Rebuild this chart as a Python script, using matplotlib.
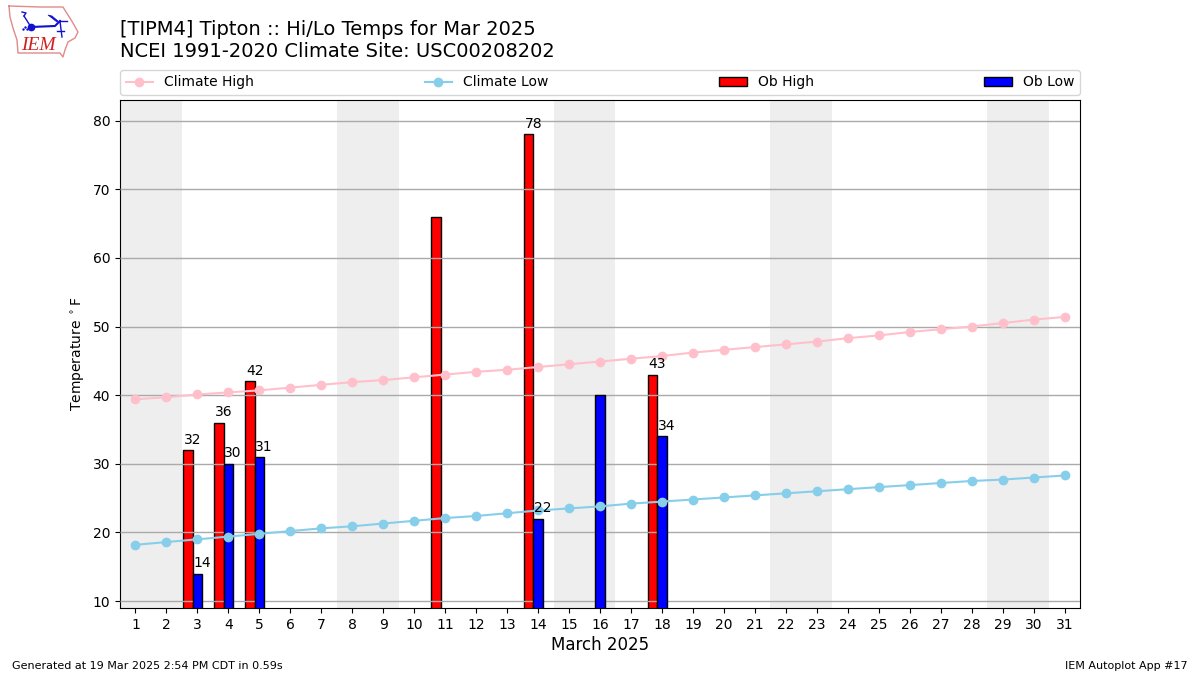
import matplotlib
matplotlib.use("Agg")
import matplotlib.pyplot as plt
from matplotlib.patches import Patch
import numpy as np

days = list(range(1, 32))
climate_high = [39.4, 39.7, 40.1, 40.4, 40.7, 41.1, 41.5, 41.9, 42.2, 42.6, 43.0,
                43.4, 43.7, 44.1, 44.5, 44.9, 45.3, 45.7, 46.2, 46.6, 47.0, 47.4,
                47.8, 48.3, 48.7, 49.2, 49.6, 50.0, 50.5, 51.0, 51.4]
climate_low = [18.2, 18.6, 19.0, 19.4, 19.8, 20.2, 20.6, 20.9, 21.3, 21.7, 22.1,
               22.4, 22.8, 23.2, 23.5, 23.8, 24.2, 24.5, 24.8, 25.1, 25.4, 25.7,
               26.0, 26.3, 26.6, 26.9, 27.2, 27.5, 27.7, 28.0, 28.3]

high_days = [3, 4, 5, 11, 14, 18]
ob_high = [32, 36, 42, 66, 78, 43]
low_days = [3, 4, 5, 14, 16, 18]
ob_low = [14, 30, 31, 22, 40, 34]

# only these got a number in the original
labelled = [3, 4, 5, 14, 18]

weekends = [1, 8, 15, 22, 29]

fig = plt.figure(figsize=(12, 6.75), dpi=100)
ax = fig.add_axes([0.1, 0.0993, 0.8, 0.7526])

for w in weekends:
    ax.axvspan(w - 0.5, w + 1.5, color="#eeeeee", lw=0, zorder=1)
# grid sits over the red bars but under the blue ones
ax.yaxis.grid(True, color="#aaaaaa", lw=1)
ax.set_axisbelow(False)

ax.bar(np.array(high_days) - 0.3, ob_high, width=0.3, color="red", edgecolor="black",
       label="Ob High", zorder=2)
ax.bar(low_days, ob_low, width=0.3, color="blue", edgecolor="black", label="Ob Low", zorder=3)
ax.plot(days, climate_high, color="pink", marker="o", label="Climate High", zorder=4)
ax.plot(days, climate_low, color="skyblue", marker="o", label="Climate Low", zorder=4)

for d, v in zip(high_days, ob_high):
    if d in labelled:
        ax.text(d - 0.15, v + 0.5, str(v), ha="center", va="bottom", fontsize=10, zorder=5)
for d, v in zip(low_days, ob_low):
    if d in labelled:
        ax.text(d + 0.15, v + 0.5, str(v), ha="center", va="bottom", fontsize=10, zorder=5)

ax.set_xlim(0.5, 31.5)
ax.set_ylim(9, 83)
ax.set_xticks(days)
ax.set_yticks(range(10, 81, 10))
ax.tick_params(labelsize=10)
ax.set_xlabel("March 2025", fontsize=12, labelpad=3)
ax.set_ylabel(r"Temperature $^\circ$F", fontsize=10)

handles, labels = ax.get_legend_handles_labels()
handles = [handles[labels.index("Climate High")], handles[labels.index("Climate Low")],
           Patch(facecolor="red", edgecolor="black"), Patch(facecolor="blue", edgecolor="black")]
fig.legend(handles, ["Climate High", "Climate Low", "Ob High", "Ob Low"], ncol=4, mode="expand",
           loc="lower left", bbox_to_anchor=(0.1, 0.8593, 0.8, 0.04), borderaxespad=0, fontsize=10)

fig.text(0.1, 0.9415, "[TIPM4] Tipton :: Hi/Lo Temps for Mar 2025", fontsize=14, va="bottom")
fig.text(0.1, 0.9095, "NCEI 1991-2020 Climate Site: USC00208202", fontsize=14, va="bottom")
fig.text(0.01, 0.0065, "Generated at 19 Mar 2025 2:54 PM CDT in 0.59s", fontsize=8, va="bottom")
fig.text(0.99, 0.0065, "IEM Autoplot App #17", fontsize=8, ha="right", va="bottom")

# logo, drawn in pixels of the figure
logo = fig.add_axes([0, 0.91, 0.0708, 0.09])
logo.set_xlim(0, 85)
logo.set_ylim(60.75, 0)
logo.axis("off")
logo_x = [9, 40, 63, 68, 73, 78, 75, 68, 65, 63, 60, 18, 17, 13, 10, 9]
logo_y = [6, 7, 7, 15, 23, 32, 38, 42, 50, 57, 53, 53, 40, 28, 17, 6]
logo.plot(logo_x, logo_y, color="#e08a8a", lw=1)
logo.plot([31, 55, 60], [27, 26, 21], color="#1010d0", lw=1.5)
logo.plot([31], [27], "o", color="#1010d0", ms=4.5)
logo.fill([48, 52, 58, 57], [15, 16, 21, 22], color="#1010d0", lw=0.5)
logo.plot([59, 67], [21, 21], color="#1010d0", lw=1)
logo.plot([60, 62], [21, 37], color="#1010d0", lw=1)
logo.plot([57, 64], [31, 31], color="#1010d0", lw=1)
logo.plot([24, 31], [16, 27], color="#1010d0", lw=1)
logo.plot([22, 26, 24], [12, 13, 16], color="#1010d0", lw=1)
logo.plot([23, 25, 27], [29, 27, 29], ".", color="#1010d0", ms=1.5)
logo.text(21, 45, "IEM", family="Liberation Serif", style="italic", color="#d02020",
          fontsize=14, va="center")

fig.savefig("out.png", dpi=100)
